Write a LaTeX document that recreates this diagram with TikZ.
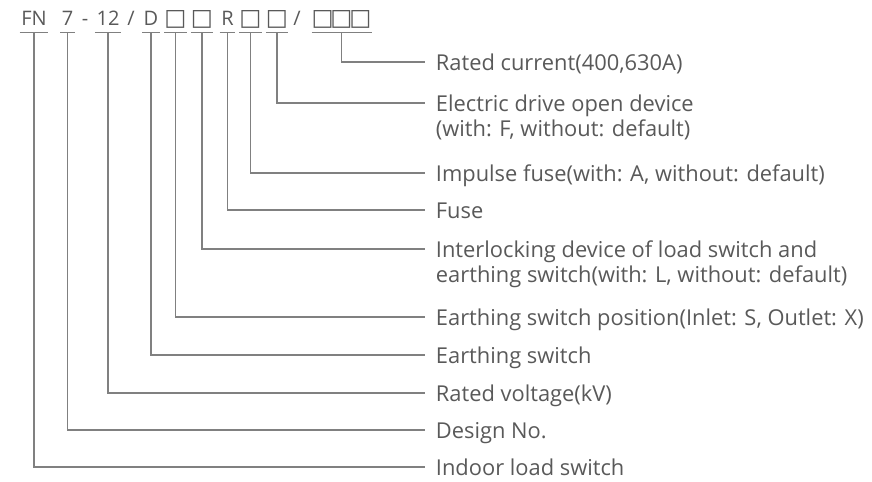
\documentclass[tikz,border=0pt]{standalone}
\usepackage{fontspec}
\setmainfont{Open Sans}
\newfontfamily\boxfont{DejaVu Sans}
\usepackage{xcolor}
\usepackage{tikz}
\usetikzlibrary{positioning}
\definecolor{codegray}{RGB}{89,89,89}
\definecolor{wiregray}{RGB}{128,128,128}
\newcommand{\bx}{\makebox[14.2pt]{\boxfont\fontsize{17.5}{19}\selectfont □}}
\tikzset{
  seg/.style={text=codegray, font=\fontsize{15}{18}\selectfont, inner xsep=1pt, inner ysep=0pt,
              text height=11pt, text depth=5.25pt, anchor=base},
  sep/.style={seg},
  uline/.style={draw=wiregray, line width=0.9pt},
  lbl/.style={text=codegray, font=\fontsize{16.4}{18.75}\selectfont, inner xsep=8pt, inner ysep=0pt,
              text height=15.4pt, text depth=3.4pt, anchor=west},
  conn/.style={draw=wiregray, line width=0.9pt}
}

\begin{document}
\begin{tikzpicture}[x=0.75pt, y=-0.75pt]
\useasboundingbox (0,0) rectangle (872,482);
% type code
\node[seg] (sFN) at (34,25) {FN};
\node[seg] (s7) at (67.5,25) {7};
\node[sep] (dash) at (85,25) {-};
\node[seg] (s12) at (108,25) {12};
\node[sep] (sl1) at (131,25) {/};
\node[seg] (sD) at (151,25) {D};
\node[seg] (sE1) at (175.5,25) {\bx};
\node[seg] (sE2) at (202,25) {\bx};
\node[seg] (sR) at (227.5,25) {R};
\node[seg] (sR1) at (250.5,25) {\bx};
\node[seg] (sR2) at (277,25) {\bx};
\node[sep] (sl2) at (297,25) {/};
\node[seg] (sI) at (341.5,25) {\bx\bx\bx};
\draw[uline] (sFN.south west) -- (sFN.south east);
\draw[uline] (s7.south west) -- (s7.south east);
\draw[uline] (s12.south west) -- (s12.south east);
\draw[uline] (sD.south west) -- (sD.south east);
\draw[uline] (sE1.south west) -- (sE1.south east);
\draw[uline] (sE2.south west) -- (sE2.south east);
\draw[uline] (sR.south west) -- (sR.south east);
\draw[uline] (sR1.south west) -- (sR1.south east);
\draw[uline] (sR2.south west) -- (sR2.south east);
\draw[uline] (sI.south west) -- (sI.south east);
% meanings
\node[lbl] (lRc) at (425,62) {Rated current(400,630A)};
\node[lbl] (lEd) at (425,103) {Electric drive open device};
\node[lbl, below right=0pt and 0pt of lEd.south west] (lEd2) {(with: F, without: default)};
\node[lbl] (lIf) at (425,173) {Impulse fuse(with: A, without: default)};
\node[lbl] (lFu) at (425,210) {Fuse};
\node[lbl] (lIl) at (425,249) {Interlocking device of load switch and};
\node[lbl, below right=0pt and 0pt of lIl.south west] (lIl2) {earthing switch(with: L, without: default)};
\node[lbl] (lEp) at (425,317) {Earthing switch position(Inlet: S, Outlet: X)};
\node[lbl] (lEs) at (425,355) {Earthing switch};
\node[lbl] (lRv) at (425,393) {Rated voltage(kV)};
\node[lbl] (lDn) at (425,430) {Design No.};
\node[lbl] (lIn) at (425,467) {Indoor load switch};
% leaders
\draw[conn] (sFN.south) |- (lIn.west);
\draw[conn] (s7.south) |- (lDn.west);
\draw[conn] (s12.south) |- (lRv.west);
\draw[conn] (sD.south) |- (lEs.west);
\draw[conn] (sE1.south) |- (lEp.west);
\draw[conn] (sE2.south) |- (lIl.west);
\draw[conn] (sR.south) |- (lFu.west);
\draw[conn] (sR1.south) |- (lIf.west);
\draw[conn] (sR2.south) |- (lEd.west);
\draw[conn] (sI.south) |- (lRc.west);
\end{tikzpicture}
\end{document}
